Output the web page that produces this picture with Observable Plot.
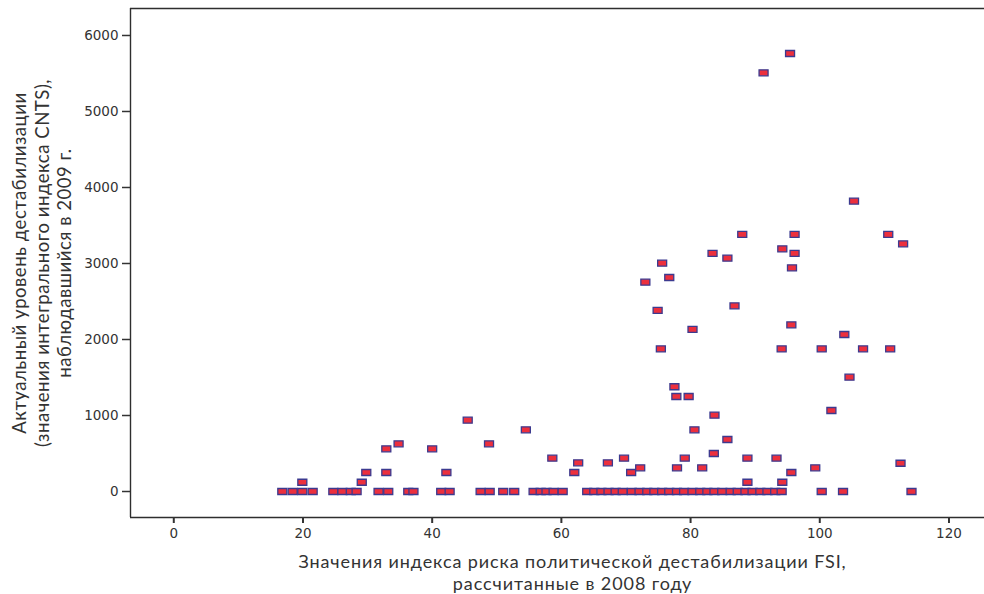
<!DOCTYPE html>
<html lang="ru">
<head>
<meta charset="utf-8">
<title>FSI 2008 и CNTS 2009</title>
<script src="https://cdn.jsdelivr.net/npm/d3@7"></script>
<script src="https://cdn.jsdelivr.net/npm/@observablehq/plot@0.6"></script>
<style>
  html, body { margin: 0; padding: 0; background: #fff; }
  #chart svg { display: block; }
</style>
</head>
<body>
<div id="chart"></div>
<script>
// FSI 2008 (x) and CNTS 2009 (y) for each country, in matching order
const fsi = [
  // countries with CNTS = 0
  16.8, 18.4, 19.9, 21.5, 24.7, 26.1, 27.4, 28.3, 31.7, 33.2, 36.3, 37.1,
  41.4, 42.7, 47.5, 48.9, 51.0, 52.7, 55.7, 56.8, 57.7, 58.8, 60.2,
  64.0, 65.1, 66.2, 67.3, 68.4, 69.5, 70.9, 72.1, 73.3, 74.4, 75.6, 76.7,
  77.9, 79.0, 80.3, 81.5, 82.6, 83.7, 84.9, 86.2, 87.3, 88.5, 89.6, 90.8,
  91.9, 93.1, 94.1, 100.3, 103.6, 114.2,
  // countries with CNTS > 0
  19.9, 29.1, 29.8, 32.9, 32.9, 34.8, 40.0, 42.2, 45.5, 48.8, 54.5, 58.6,
  62.0, 62.6, 67.2, 69.7, 70.8, 72.2, 73.0, 74.9, 75.4, 75.6, 76.7, 77.5,
  77.8, 77.9, 79.1, 79.7, 80.3, 80.6, 81.8, 83.4, 83.6, 83.7, 85.7, 85.7,
  86.8, 88.0, 88.8, 88.8, 91.3, 93.3, 94.1, 94.2, 94.2, 95.4, 95.6, 95.6,
  95.7, 96.1, 96.1, 99.3, 100.3, 101.8, 103.8, 104.6, 105.3, 106.7, 110.6,
  110.9, 112.5, 112.9
];
const cnts = [
  0, 0, 0, 0, 0, 0, 0, 0, 0, 0, 0, 0,
  0, 0, 0, 0, 0, 0, 0, 0, 0, 0, 0,
  0, 0, 0, 0, 0, 0, 0, 0, 0, 0, 0, 0,
  0, 0, 0, 0, 0, 0, 0, 0, 0, 0, 0, 0,
  0, 0, 0, 0, 0, 0,
  122, 122, 250, 250, 562, 628, 562, 250, 938, 628, 812, 438,
  250, 378, 378, 438, 250, 312, 2754, 2382, 1877, 3004, 2816, 1378,
  1250, 312, 438, 1250, 2132, 812, 312, 3132, 500, 1004, 3070, 684,
  2443, 3382, 438, 122, 5509, 438, 1877, 3193, 122, 5763, 2193, 250,
  2943, 3382, 3132, 312, 1877, 1066, 2066, 1504, 3820, 1877, 3382,
  1877, 372, 3259
];

const xTicks = [0, 20, 40, 60, 80, 100, 120];
const yTicks = [0, 1000, 2000, 3000, 4000, 5000, 6000];

const xTitle = "Значения индекса риска политической дестабилизации FSI,\nрассчитанные в 2008 году";
const yTitle = "Актуальный уровень дестабилизации\n(значения интегрального индекса CNTS),\nнаблюдавшийся в 2009 г.";

const countries = fsi.map((x, i) => ({fsi: x, cnts: cnts[i]}));

const xDomain = [-6.7, 125.5];
const yDomain = [-342, 6355];

// small flat box used as the point marker
const box = {
  draw(context) {
    const w = 9, h = 6;
    context.rect(-w / 2, -h / 2, w, h);
  }
};

const tickFont = {fontFamily: "DejaVu Sans", fontSize: 13.5};
const lineStyle = {stroke: "#2e2e2e", strokeWidth: 1.4};

const chart = Plot.plot({
  width: 984,
  height: 594,
  marginLeft: 130,
  marginTop: 8,
  marginBottom: 77,
  marginRight: 0,
  style: {background: "#fff", color: "#333"},
  x: {domain: xDomain},
  y: {domain: yDomain},
  marks: [
    // open frame: left, top and bottom edges of the plot area
    Plot.ruleX([xDomain[0]], lineStyle),
    Plot.ruleY(yDomain, lineStyle),
    Plot.axisX({
      ticks: xTicks, tickSize: 6, tickPadding: 5, strokeWidth: 2,
      stroke: "#333", fill: "#333", label: null, tickFormat: d => String(d), ...tickFont
    }),
    Plot.axisY({
      ticks: yTicks, tickSize: 8, tickPadding: 4, strokeWidth: 1.5,
      stroke: "#333", fill: "#333", label: null, tickFormat: d => String(d), ...tickFont
    }),
    Plot.dot(countries, {
      x: "fsi", y: "cnts", symbol: box,
      fill: "#ec2f3d", stroke: "#3c3a8f", strokeWidth: 1.3
    }),
    Plot.text([xTitle], {
      text: d => d, frameAnchor: "bottom", lineAnchor: "middle",
      dy: 54.5, dx: 15, lineHeight: 1.19,
      fontFamily: "Lato", fontSize: 18, fill: "#333"
    }),
    Plot.text([yTitle], {
      text: d => d, frameAnchor: "left", textAnchor: "middle", lineAnchor: "middle",
      rotate: -90, dx: -89, lineHeight: 1.21,
      fontFamily: "Lato", fontSize: 18.6, fill: "#333"
    })
  ]
});

// widen the spacing of the two axis titles
d3.select(chart).selectAll("text").each(function () {
  const t = this.textContent;
  if (t.startsWith("Значения")) this.style.letterSpacing = "0.9px";
  else if (t.startsWith("Актуальный")) this.style.letterSpacing = "0.5px";
});

document.getElementById("chart").append(chart);
</script>
</body>
</html>
